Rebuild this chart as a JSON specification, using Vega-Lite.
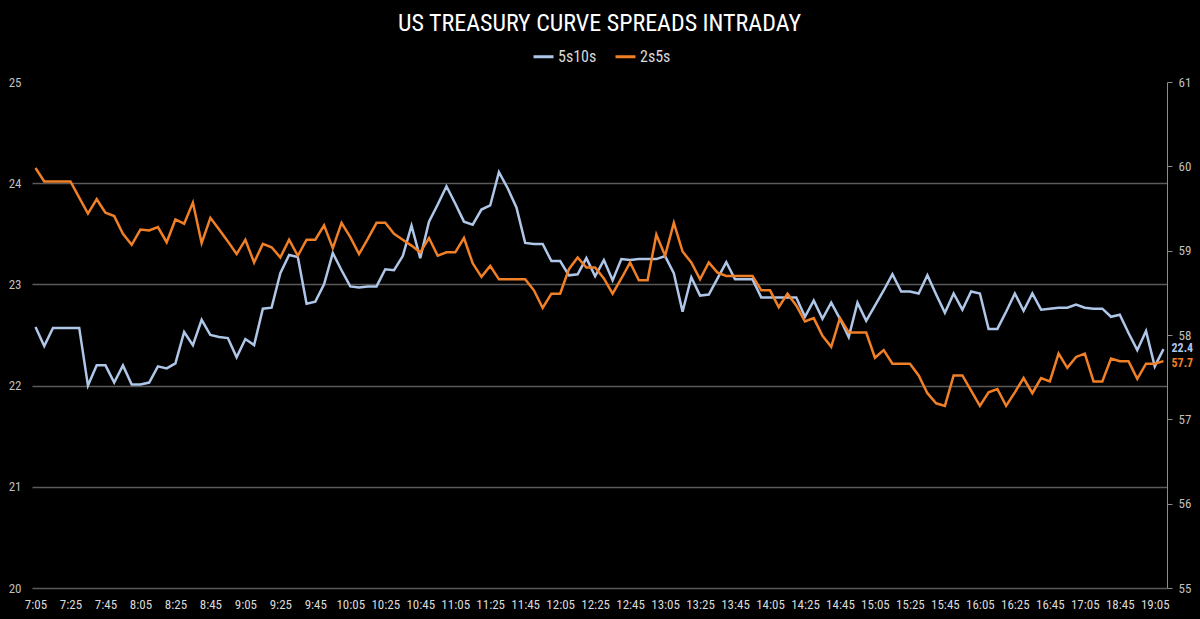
{
  "$schema": "https://vega.github.io/schema/vega-lite/v6.json",
  "width": 1135,
  "height": 506,
  "autosize": {"type": "none"},
  "padding": {"left": 32, "top": 82, "right": 33, "bottom": 31},
  "background": "#000000",
  "title": {
    "text": "US TREASURY CURVE SPREADS INTRADAY",
    "color": "#ffffff",
    "fontSize": 24,
    "fontWeight": "normal",
    "font": "Roboto Condensed, Liberation Sans Narrow, Roboto, sans-serif",
    "anchor": "middle",
    "offset": 9
  },
  "data": {
    "values": [
      {"t": "7:05", "5s10s": 22.58, "2s5s": 59.98},
      {"t": "7:10", "5s10s": 22.39, "2s5s": 59.82},
      {"t": "7:15", "5s10s": 22.57, "2s5s": 59.82},
      {"t": "7:20", "5s10s": 22.57, "2s5s": 59.82},
      {"t": "7:25", "5s10s": 22.57, "2s5s": 59.82},
      {"t": "7:30", "5s10s": 22.57, "2s5s": 59.63},
      {"t": "7:35", "5s10s": 22.0, "2s5s": 59.44},
      {"t": "7:40", "5s10s": 22.2, "2s5s": 59.61},
      {"t": "7:45", "5s10s": 22.2, "2s5s": 59.45},
      {"t": "7:50", "5s10s": 22.03, "2s5s": 59.41},
      {"t": "7:55", "5s10s": 22.2, "2s5s": 59.2},
      {"t": "8:00", "5s10s": 22.01, "2s5s": 59.07},
      {"t": "8:05", "5s10s": 22.01, "2s5s": 59.25},
      {"t": "8:10", "5s10s": 22.03, "2s5s": 59.24},
      {"t": "8:15", "5s10s": 22.19, "2s5s": 59.28},
      {"t": "8:20", "5s10s": 22.17, "2s5s": 59.1},
      {"t": "8:25", "5s10s": 22.22, "2s5s": 59.37},
      {"t": "8:30", "5s10s": 22.53, "2s5s": 59.32},
      {"t": "8:35", "5s10s": 22.4, "2s5s": 59.57},
      {"t": "8:40", "5s10s": 22.65, "2s5s": 59.09},
      {"t": "8:45", "5s10s": 22.5, "2s5s": 59.39},
      {"t": "8:50", "5s10s": 22.48, "2s5s": 59.25},
      {"t": "8:55", "5s10s": 22.47, "2s5s": 59.11},
      {"t": "9:00", "5s10s": 22.28, "2s5s": 58.96},
      {"t": "9:05", "5s10s": 22.46, "2s5s": 59.13},
      {"t": "9:10", "5s10s": 22.4, "2s5s": 58.86},
      {"t": "9:15", "5s10s": 22.76, "2s5s": 59.08},
      {"t": "9:20", "5s10s": 22.77, "2s5s": 59.04},
      {"t": "9:25", "5s10s": 23.11, "2s5s": 58.92},
      {"t": "9:30", "5s10s": 23.29, "2s5s": 59.13},
      {"t": "9:35", "5s10s": 23.27, "2s5s": 58.94},
      {"t": "9:40", "5s10s": 22.81, "2s5s": 59.13},
      {"t": "9:45", "5s10s": 22.83, "2s5s": 59.13},
      {"t": "9:50", "5s10s": 23.0, "2s5s": 59.3},
      {"t": "9:55", "5s10s": 23.31, "2s5s": 59.03},
      {"t": "10:00", "5s10s": 23.14, "2s5s": 59.33},
      {"t": "10:05", "5s10s": 22.98, "2s5s": 59.16},
      {"t": "10:10", "5s10s": 22.97, "2s5s": 58.96},
      {"t": "10:15", "5s10s": 22.98, "2s5s": 59.14},
      {"t": "10:20", "5s10s": 22.98, "2s5s": 59.33},
      {"t": "10:25", "5s10s": 23.15, "2s5s": 59.33},
      {"t": "10:30", "5s10s": 23.14, "2s5s": 59.2},
      {"t": "10:35", "5s10s": 23.28, "2s5s": 59.13},
      {"t": "10:40", "5s10s": 23.58, "2s5s": 59.06},
      {"t": "10:45", "5s10s": 23.26, "2s5s": 58.98},
      {"t": "10:50", "5s10s": 23.62, "2s5s": 59.15},
      {"t": "10:55", "5s10s": 23.79, "2s5s": 58.94},
      {"t": "11:00", "5s10s": 23.97, "2s5s": 58.98},
      {"t": "11:05", "5s10s": 23.8, "2s5s": 58.98},
      {"t": "11:10", "5s10s": 23.62, "2s5s": 59.15},
      {"t": "11:15", "5s10s": 23.59, "2s5s": 58.85},
      {"t": "11:20", "5s10s": 23.74, "2s5s": 58.69},
      {"t": "11:25", "5s10s": 23.78, "2s5s": 58.82},
      {"t": "11:30", "5s10s": 24.11, "2s5s": 58.66},
      {"t": "11:35", "5s10s": 23.95, "2s5s": 58.66},
      {"t": "11:40", "5s10s": 23.76, "2s5s": 58.66},
      {"t": "11:45", "5s10s": 23.41, "2s5s": 58.66},
      {"t": "11:50", "5s10s": 23.4, "2s5s": 58.53},
      {"t": "11:55", "5s10s": 23.4, "2s5s": 58.32},
      {"t": "12:00", "5s10s": 23.23, "2s5s": 58.49},
      {"t": "12:05", "5s10s": 23.23, "2s5s": 58.49},
      {"t": "12:10", "5s10s": 23.09, "2s5s": 58.78},
      {"t": "12:15", "5s10s": 23.1, "2s5s": 58.92},
      {"t": "12:20", "5s10s": 23.26, "2s5s": 58.8},
      {"t": "12:25", "5s10s": 23.08, "2s5s": 58.8},
      {"t": "12:30", "5s10s": 23.24, "2s5s": 58.67},
      {"t": "12:35", "5s10s": 23.04, "2s5s": 58.49},
      {"t": "12:40", "5s10s": 23.25, "2s5s": 58.67},
      {"t": "12:45", "5s10s": 23.24, "2s5s": 58.86},
      {"t": "12:50", "5s10s": 23.25, "2s5s": 58.65},
      {"t": "12:55", "5s10s": 23.25, "2s5s": 58.65},
      {"t": "13:00", "5s10s": 23.25, "2s5s": 59.19},
      {"t": "13:05", "5s10s": 23.28, "2s5s": 58.94},
      {"t": "13:10", "5s10s": 23.11, "2s5s": 59.33},
      {"t": "13:15", "5s10s": 22.73, "2s5s": 58.99},
      {"t": "13:20", "5s10s": 23.07, "2s5s": 58.86},
      {"t": "13:25", "5s10s": 22.89, "2s5s": 58.66},
      {"t": "13:30", "5s10s": 22.9, "2s5s": 58.86},
      {"t": "13:35", "5s10s": 23.06, "2s5s": 58.74},
      {"t": "13:40", "5s10s": 23.22, "2s5s": 58.7},
      {"t": "13:45", "5s10s": 23.05, "2s5s": 58.7},
      {"t": "13:50", "5s10s": 23.05, "2s5s": 58.7},
      {"t": "13:55", "5s10s": 23.05, "2s5s": 58.7},
      {"t": "14:00", "5s10s": 22.87, "2s5s": 58.53},
      {"t": "14:05", "5s10s": 22.87, "2s5s": 58.53},
      {"t": "14:10", "5s10s": 22.87, "2s5s": 58.33},
      {"t": "14:15", "5s10s": 22.87, "2s5s": 58.49},
      {"t": "14:20", "5s10s": 22.87, "2s5s": 58.35},
      {"t": "14:25", "5s10s": 22.68, "2s5s": 58.16},
      {"t": "14:30", "5s10s": 22.84, "2s5s": 58.2},
      {"t": "14:35", "5s10s": 22.66, "2s5s": 57.99},
      {"t": "14:40", "5s10s": 22.82, "2s5s": 57.86},
      {"t": "14:45", "5s10s": 22.66, "2s5s": 58.2},
      {"t": "14:50", "5s10s": 22.48, "2s5s": 58.03},
      {"t": "14:55", "5s10s": 22.82, "2s5s": 58.03},
      {"t": "15:00", "5s10s": 22.64, "2s5s": 58.03},
      {"t": "15:05", "5s10s": 22.79, "2s5s": 57.73},
      {"t": "15:10", "5s10s": 22.94, "2s5s": 57.82},
      {"t": "15:15", "5s10s": 23.1, "2s5s": 57.66},
      {"t": "15:20", "5s10s": 22.93, "2s5s": 57.66},
      {"t": "15:25", "5s10s": 22.93, "2s5s": 57.66},
      {"t": "15:30", "5s10s": 22.91, "2s5s": 57.52},
      {"t": "15:35", "5s10s": 23.09, "2s5s": 57.31},
      {"t": "15:40", "5s10s": 22.9, "2s5s": 57.19},
      {"t": "15:45", "5s10s": 22.72, "2s5s": 57.16},
      {"t": "15:50", "5s10s": 22.91, "2s5s": 57.52},
      {"t": "15:55", "5s10s": 22.75, "2s5s": 57.52},
      {"t": "16:00", "5s10s": 22.93, "2s5s": 57.34},
      {"t": "16:05", "5s10s": 22.91, "2s5s": 57.16},
      {"t": "16:10", "5s10s": 22.56, "2s5s": 57.32},
      {"t": "16:15", "5s10s": 22.56, "2s5s": 57.36},
      {"t": "16:20", "5s10s": 22.73, "2s5s": 57.16},
      {"t": "16:25", "5s10s": 22.91, "2s5s": 57.32},
      {"t": "16:30", "5s10s": 22.74, "2s5s": 57.49},
      {"t": "16:35", "5s10s": 22.91, "2s5s": 57.31},
      {"t": "16:40", "5s10s": 22.75, "2s5s": 57.49},
      {"t": "16:45", "5s10s": 22.76, "2s5s": 57.45},
      {"t": "16:50", "5s10s": 22.77, "2s5s": 57.78},
      {"t": "16:55", "5s10s": 22.77, "2s5s": 57.61},
      {"t": "17:00", "5s10s": 22.8, "2s5s": 57.74},
      {"t": "17:05", "5s10s": 22.77, "2s5s": 57.78},
      {"t": "17:10", "5s10s": 22.76, "2s5s": 57.45},
      {"t": "17:15", "5s10s": 22.76, "2s5s": 57.45},
      {"t": "17:20", "5s10s": 22.68, "2s5s": 57.72},
      {"t": "18:45", "5s10s": 22.7, "2s5s": 57.69},
      {"t": "18:50", "5s10s": 22.52, "2s5s": 57.69},
      {"t": "18:55", "5s10s": 22.35, "2s5s": 57.48},
      {"t": "19:00", "5s10s": 22.54, "2s5s": 57.66},
      {"t": "19:05", "5s10s": 22.19, "2s5s": 57.66},
      {"t": "19:10", "5s10s": 22.36, "2s5s": 57.69}
    ]
  },
  "transform": [{"fold": ["5s10s", "2s5s"], "as": ["series", "value"]}],
  "encoding": {
    "x": {
      "field": "t",
      "type": "ordinal",
      "sort": null,
      "scale": {"type": "point", "padding": 0.4},
      "axis": {
        "title": null,
        "values": ["7:05","7:25","7:45","8:05","8:25","8:45","9:05","9:25","9:45","10:05","10:25","10:45","11:05","11:25","11:45","12:05","12:25","12:45","13:05","13:25","13:45","14:05","14:25","14:45","15:05","15:25","15:45","16:05","16:25","16:45","17:05","18:45","19:05"],
        "labelAngle": 0,
        "labelPadding": 10,
        "labelColor": "#d9d9d9",
        "labelFontSize": 13,
        "labelOverlap": false,
        "domain": false,
        "ticks": false,
        "tickSize": 0,
        "grid": false
      }
    }
  },
  "layer": [
    {
      "transform": [{"filter": "datum.series == '5s10s'"}],
      "encoding": {
        "y": {
          "field": "value",
          "type": "quantitative",
          "scale": {"domain": [20, 25], "zero": false, "nice": false},
          "axis": {
            "title": null,
            "orient": "left",
            "values": [20, 21, 22, 23, 24, 25],
            "grid": true,
            "gridColor": {"condition": {"test": "datum.value == 25", "value": "transparent"}, "value": "#5a5a5a"},
            "gridWidth": 1.5,
            "domain": false,
            "ticks": false,
            "tickSize": 0,
            "labelPadding": 11,
            "labelColor": "#bfbfbf",
            "labelFontSize": 13
          }
        }
      },
      "layer": [
        {
          "mark": {"type": "line", "strokeWidth": 2.5},
          "encoding": {
            "color": {
              "field": "series",
              "type": "nominal",
              "scale": {"domain": ["5s10s", "2s5s"], "range": ["#aec6e8", "#f07f26"]},
              "legend": {
                "title": null,
                "orient": "none",
                "direction": "horizontal",
                "legendX": 500,
                "legendY": -37,
                "padding": 0,
                "symbolType": "stroke",
                "symbolSize": 400,
                "symbolStrokeWidth": 3,
                "labelColor": "#d9d9d9",
                "labelFontSize": 16,
                "labelOffset": 3,
                "columnPadding": 12
              }
            }
          }
        },
        {
          "transform": [{"filter": "datum.t == '19:10'"}],
          "mark": {"type": "text", "align": "left", "baseline": "middle", "dx": 8, "dy": -1, "color": "#aec6e8", "fontSize": 12, "fontWeight": "bold"},
          "encoding": {"text": {"field": "value", "type": "quantitative", "format": ".1f"}}
        }
      ]
    },
    {
      "transform": [{"filter": "datum.series == '2s5s'"}],
      "encoding": {
        "y": {
          "field": "value",
          "type": "quantitative",
          "scale": {"domain": [55, 61], "zero": false, "nice": false},
          "axis": {
            "title": null,
            "orient": "right",
            "values": [55, 56, 57, 58, 59, 60, 61],
            "grid": false,
            "domain": true,
            "domainColor": "#8c8c8c",
            "ticks": true,
            "tickColor": "#8c8c8c",
            "tickSize": 5,
            "labelPadding": 6,
            "labelColor": "#bfbfbf",
            "labelFontSize": 13
          }
        }
      },
      "layer": [
        {
          "mark": {"type": "line", "strokeWidth": 2.5},
          "encoding": {
            "color": {"field": "series", "type": "nominal"}
          }
        },
        {
          "transform": [{"filter": "datum.t == '19:10'"}],
          "mark": {"type": "text", "align": "left", "baseline": "middle", "dx": 8, "dy": 2, "color": "#f07f26", "fontSize": 12, "fontWeight": "bold"},
          "encoding": {"text": {"field": "value", "type": "quantitative", "format": ".1f"}}
        }
      ]
    }
  ],
  "resolve": {"scale": {"y": "independent"}},
  "config": {
    "view": {"stroke": null},
    "font": "Roboto Condensed, Liberation Sans Narrow, Roboto, sans-serif",
    "axis": {"labelFont": "Roboto Condensed, Liberation Sans Narrow, Roboto, sans-serif"},
    "legend": {"labelFont": "Roboto Condensed, Liberation Sans Narrow, Roboto, sans-serif"},
    "text": {"font": "Roboto Condensed, Liberation Sans Narrow, Roboto, sans-serif"}
  }
}
